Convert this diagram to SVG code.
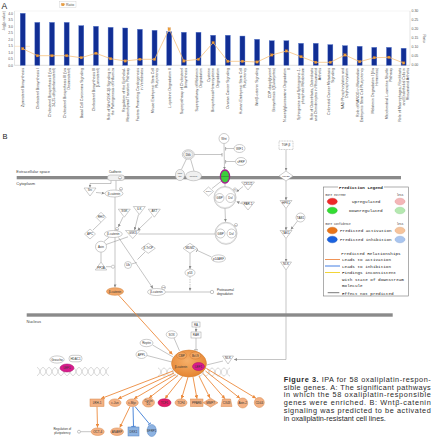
<svg xmlns="http://www.w3.org/2000/svg" width="432" height="438" viewBox="0 0 432 438">
<defs>
<style>
.ax{font-family:"Liberation Sans",Arial,sans-serif;font-size:3.5px;fill:#555}
.xl{font-family:"Liberation Sans",Arial,sans-serif;font-size:3.6px;fill:#444}
.bar{fill:#112e94;stroke:#5577cc;stroke-width:0.4}
.n{fill:#fff;stroke:#9a9a9a;stroke-width:0.5}
.g{fill:#f0f0f0;stroke:#a0a0a0;stroke-width:0.5}
.o{fill:#f4b183;stroke:#d6874a;stroke-width:0.5}
.t{font-family:"Liberation Sans",Arial,sans-serif;font-size:3px;fill:#333;text-anchor:middle}
.ts{font-family:"Liberation Sans",Arial,sans-serif;font-size:2.2px;fill:#333;text-anchor:middle}
.lb{font-family:"Liberation Sans",Arial,sans-serif;font-size:4px;fill:#444}
.c{stroke:#8a8a8a;stroke-width:0.5;fill:none}
.co{stroke:#ec8a3c;stroke-width:0.9;fill:none}
.cb{stroke:#3a7bd5;stroke-width:0.9;fill:none}
.lg{font-family:"Liberation Mono","Courier New",monospace;font-size:4.3px;fill:#222}
.ls{font-family:"Liberation Mono","Courier New",monospace;font-size:2.8px;fill:#333}
.cap{font-family:"Liberation Sans",Arial,sans-serif;font-size:7.3px;fill:#2a2a2a}
</style>
<marker id="ag" viewBox="0 0 6 6" refX="6" refY="3" markerWidth="3" markerHeight="3" orient="auto" markerUnits="userSpaceOnUse"><path d="M0,0L6,3L0,6z" fill="#8a8a8a"/></marker>
<marker id="ao" viewBox="0 0 6 6" refX="6" refY="3" markerWidth="3.6" markerHeight="3.6" orient="auto" markerUnits="userSpaceOnUse"><path d="M0,0L6,3L0,6z" fill="#ec8a3c"/></marker>
<marker id="tg" viewBox="0 0 6 6" refX="3" refY="3" markerWidth="4" markerHeight="4" orient="auto" markerUnits="userSpaceOnUse"><path d="M3,0V6" stroke="#8a8a8a" stroke-width="1"/></marker>
<marker id="tb" viewBox="0 0 6 6" refX="3" refY="3" markerWidth="4.5" markerHeight="4.5" orient="auto" markerUnits="userSpaceOnUse"><path d="M3,0V6" stroke="#3a7bd5" stroke-width="1.2"/></marker>
<rect id="mk" x="-1.2" y="-1.2" width="2.4" height="2.4" fill="#eea13c" stroke="#c9782a" stroke-width="0.3"/>
<path id="hx" d="M0,-4C3,-4 3,4 6,4C9,4 9,-4 12,-4M0,4C3,4 3,-4 6,-4C9,-4 9,4 12,4" fill="none" stroke="#b5b5b5" stroke-width="0.5"/>
<radialGradient id="cxg" cx="0.45" cy="0.4" r="0.65"><stop offset="0" stop-color="#f6b06a"/><stop offset="1" stop-color="#e4822e"/></radialGradient>
</defs>
<rect width="432" height="438" fill="#fff"/>

<!-- ================= Panel A ================= -->
<g id="panelA">
<text x="1.5" y="8.5" font-family="Liberation Sans,Arial,sans-serif" font-size="8.5" fill="#222">A</text>
<g id="ratio-legend">
<rect x="59.3" y="1.7" width="16.7" height="5.8" fill="#fff" stroke="#ccc" stroke-width="0.4"/>
<line x1="60.8" y1="4.6" x2="65" y2="4.6" stroke="#f6c27e" stroke-width="0.7"/>
<use href="#mk" x="62.9" y="4.6"/>
<text x="66" y="5.9" class="ax">Ratio</text>
</g>
<line x1="14.5" y1="11" x2="410" y2="11" stroke="#e2e2e2" stroke-width="0.4"/>
<line x1="14.5" y1="11" x2="14.5" y2="65.3" stroke="#bbb" stroke-width="0.4"/>
<line x1="410" y1="11" x2="410" y2="65.3" stroke="#bbb" stroke-width="0.4"/>
<line x1="14.5" y1="65.3" x2="410" y2="65.3" stroke="#aaa" stroke-width="0.4"/>
<line x1="14.5" y1="46.3" x2="30" y2="46.3" stroke="#f6d3a8" stroke-width="0.6"/>
<g class="ax" text-anchor="end">
<text x="13" y="14.5">4.0</text><text x="13" y="21">3.5</text><text x="13" y="27.5">3.0</text><text x="13" y="34">2.5</text><text x="13" y="40.5">2.0</text><text x="13" y="47">1.5</text><text x="13" y="53.5">1.0</text><text x="13" y="60">0.5</text><text x="13" y="66.5">0.0</text>
</g>
<g class="ax">
<text x="411.5" y="12.2">0.30</text><text x="411.5" y="21.2">0.25</text><text x="411.5" y="30.2">0.20</text><text x="411.5" y="39.2">0.15</text><text x="411.5" y="48.2">0.10</text><text x="411.5" y="57.2">0.05</text><text x="411.5" y="66.2">0.00</text>
</g>
<text class="ax" transform="translate(4.5,21) rotate(-90)" text-anchor="middle">-log(p-value)</text>
<text class="ax" transform="translate(423,38.5) rotate(90)" text-anchor="middle">Ratio</text>
<g id="bars">
<rect class="bar" x="20.2" y="13.3" width="5" height="52"/>
<rect class="bar" x="34.85" y="22.4" width="5" height="42.9"/>
<rect class="bar" x="49.5" y="22.4" width="5" height="42.9"/>
<rect class="bar" x="64.15" y="22.4" width="5" height="42.9"/>
<rect class="bar" x="78.8" y="25.65" width="5" height="39.65"/>
<rect class="bar" x="93.45" y="26.3" width="5" height="39"/>
<rect class="bar" x="108.1" y="27.34" width="5" height="37.96"/>
<rect class="bar" x="122.75" y="27.99" width="5" height="37.31"/>
<rect class="bar" x="137.4" y="29.29" width="5" height="36.01"/>
<rect class="bar" x="152.05" y="30.33" width="5" height="34.97"/>
<rect class="bar" x="166.7" y="31.76" width="5" height="33.54"/>
<rect class="bar" x="181.35" y="32.28" width="5" height="33.02"/>
<rect class="bar" x="196" y="32.28" width="5" height="33.02"/>
<rect class="bar" x="210.65" y="35.27" width="5" height="30.03"/>
<rect class="bar" x="225.3" y="35.27" width="5" height="30.03"/>
<rect class="bar" x="239.95" y="36.05" width="5" height="29.25"/>
<rect class="bar" x="254.6" y="39.3" width="5" height="26"/>
<rect class="bar" x="269.25" y="40.73" width="5" height="24.57"/>
<rect class="bar" x="283.9" y="40.73" width="5" height="24.57"/>
<rect class="bar" x="298.55" y="43.33" width="5" height="21.97"/>
<rect class="bar" x="313.2" y="43.33" width="5" height="21.97"/>
<rect class="bar" x="327.85" y="44.63" width="5" height="20.67"/>
<rect class="bar" x="342.5" y="45.67" width="5" height="19.63"/>
<rect class="bar" x="357.15" y="46.32" width="5" height="18.98"/>
<rect class="bar" x="371.8" y="47.36" width="5" height="17.94"/>
<rect class="bar" x="386.45" y="47.36" width="5" height="17.94"/>
<rect class="bar" x="401.1" y="48.27" width="5" height="17.03"/>
</g>
<g id="ratio-line">
<polyline fill="none" stroke="#f6c27e" stroke-width="0.8" points="22.7,48.7 37.35,55.7 52,55.7 66.65,55.7 81.3,57.7 95.95,53.3 110.6,58.7 125.25,61 139.9,59.3 154.55,59.3 169.2,29 183.85,61 198.5,59.3 213.15,42.7 227.8,61.3 242.45,61.3 257.1,62 271.75,55 286.4,51 301.05,56.7 315.7,62.3 330.35,62.3 345,55 359.65,61.7 374.3,57.7 388.95,57.3 403.6,63"/>
<use href="#mk" x="22.7" y="48.7"/><use href="#mk" x="37.35" y="55.7"/><use href="#mk" x="52" y="55.7"/><use href="#mk" x="66.65" y="55.7"/><use href="#mk" x="81.3" y="57.7"/><use href="#mk" x="95.95" y="53.3"/><use href="#mk" x="110.6" y="58.7"/><use href="#mk" x="125.25" y="61"/><use href="#mk" x="139.9" y="59.3"/><use href="#mk" x="154.55" y="59.3"/><use href="#mk" x="169.2" y="29"/><use href="#mk" x="183.85" y="61"/><use href="#mk" x="198.5" y="59.3"/><use href="#mk" x="213.15" y="42.7"/><use href="#mk" x="227.8" y="61.3"/><use href="#mk" x="242.45" y="61.3"/><use href="#mk" x="257.1" y="62"/><use href="#mk" x="271.75" y="55"/><use href="#mk" x="286.4" y="51"/><use href="#mk" x="301.05" y="56.7"/><use href="#mk" x="315.7" y="62.3"/><use href="#mk" x="330.35" y="62.3"/><use href="#mk" x="345" y="55"/><use href="#mk" x="359.65" y="61.7"/><use href="#mk" x="374.3" y="57.7"/><use href="#mk" x="388.95" y="57.3"/><use href="#mk" x="403.6" y="63"/>
</g>
<g id="xlabels" class="xl" text-anchor="end">
<text transform="translate(22.7,68) rotate(-90)"><tspan x="0" y="1.3">Zymosterol Biosynthesis</tspan></text>
<text transform="translate(37.35,68) rotate(-90)"><tspan x="0" y="1.3">Cholesterol Biosynthesis I</tspan></text>
<text transform="translate(52,68) rotate(-90)"><tspan x="0" y="-0.75">Cholesterol Biosynthesis II (via</tspan><tspan x="0" y="3.35">24,25-dihydrolanosterol)</tspan></text>
<text transform="translate(66.65,68) rotate(-90)"><tspan x="0" y="-0.75">Cholesterol Biosynthesis III (via</tspan><tspan x="0" y="3.35">Desmosterol)</tspan></text>
<text transform="translate(81.3,68) rotate(-90)"><tspan x="0" y="1.3">Basal Cell Carcinoma Signaling</tspan></text>
<text transform="translate(95.95,68) rotate(-90)"><tspan x="0" y="-0.75">Cholesterol Biosynthesis III</tspan><tspan x="0" y="3.35">(Lanosterol)</tspan></text>
<text transform="translate(110.6,68) rotate(-90)"><tspan x="0" y="-0.75">Role of Wnt/GSK-3β Signaling in</tspan><tspan x="0" y="3.35">the Pathogenesis of Influenza</tspan></text>
<text transform="translate(125.25,68) rotate(-90)"><tspan x="0" y="-0.75">Regulation of the Epithelial-</tspan><tspan x="0" y="3.35">Mesenchymal Transition Pathway</tspan></text>
<text transform="translate(139.9,68) rotate(-90)"><tspan x="0" y="-0.75">Factors Promoting Cardiogenesis</tspan><tspan x="0" y="3.35">in Vertebrates</tspan></text>
<text transform="translate(154.55,68) rotate(-90)"><tspan x="0" y="-0.75">Mouse Embryonic Stem Cell</tspan><tspan x="0" y="3.35">Pluripotency</tspan></text>
<text transform="translate(169.2,68) rotate(-90)"><tspan x="0" y="1.3">L-cysteine Degradation II</tspan></text>
<text transform="translate(183.85,68) rotate(-90)"><tspan x="0" y="-0.75">Superpathway of Cholesterol</tspan><tspan x="0" y="3.35">Biosynthesis</tspan></text>
<text transform="translate(198.5,68) rotate(-90)"><tspan x="0" y="-0.75">Superpathway of Melatonin</tspan><tspan x="0" y="3.35">Degradation</tspan></text>
<text transform="translate(213.15,68) rotate(-90)"><tspan x="0" y="-2.8">Cysteine</tspan><tspan x="0" y="1.3">Biosynthesis/Homocysteine</tspan><tspan x="0" y="5.4">Degradation</tspan></text>
<text transform="translate(227.8,68) rotate(-90)"><tspan x="0" y="1.3">Ovarian Cancer Signaling</tspan></text>
<text transform="translate(242.45,68) rotate(-90)"><tspan x="0" y="-0.75">Human Embryonic Stem Cell</tspan><tspan x="0" y="3.35">Pluripotency</tspan></text>
<text transform="translate(257.1,68) rotate(-90)"><tspan x="0" y="1.3">Wnt/β-catenin Signaling</tspan></text>
<text transform="translate(271.75,68) rotate(-90)"><tspan x="0" y="-0.75">CDP-diacylglycerol</tspan><tspan x="0" y="3.35">Biosynthesis I (Eukaryotes)</tspan></text>
<text transform="translate(286.4,68) rotate(-90)"><tspan x="0" y="-0.75">N-acetylglucosamine Degradation</tspan><tspan x="0" y="3.35">II</tspan></text>
<text transform="translate(301.05,68) rotate(-90)"><tspan x="0" y="-0.75">Sphingosine and Sphingosine-1-</tspan><tspan x="0" y="3.35">phosphate Metabolism</tspan></text>
<text transform="translate(315.7,68) rotate(-90)"><tspan x="0" y="-2.8">Role of Osteoblasts, Osteoclasts</tspan><tspan x="0" y="1.3">and Chondrocytes in Rheumatoid</tspan><tspan x="0" y="5.4">Arthritis</tspan></text>
<text transform="translate(330.35,68) rotate(-90)"><tspan x="0" y="-0.75">Colorectal Cancer Metastasis</tspan><tspan x="0" y="3.35">Signaling</tspan></text>
<text transform="translate(345,68) rotate(-90)"><tspan x="0" y="-0.75">NAD Phosphorylation and</tspan><tspan x="0" y="3.35">Dephosphorylation</tspan></text>
<text transform="translate(359.65,68) rotate(-90)"><tspan x="0" y="-0.75">Role of NANOG in Mammalian</tspan><tspan x="0" y="3.35">Embryonic Stem Cell Pluripotency</tspan></text>
<text transform="translate(374.3,68) rotate(-90)"><tspan x="0" y="-0.75">Melatonin Degradation I (Via</tspan><tspan x="0" y="3.35">Hormones)</tspan></text>
<text transform="translate(388.95,68) rotate(-90)"><tspan x="0" y="-0.75">Mitochondrial L-carnitine Shuttle</tspan><tspan x="0" y="3.35">Pathway</tspan></text>
<text transform="translate(403.6,68) rotate(-90)"><tspan x="0" y="-2.8">Role of Macrophages, Fibroblasts</tspan><tspan x="0" y="1.3">and Endothelial Cells in</tspan><tspan x="0" y="5.4">Rheumatoid Arthritis</tspan></text>
</g>
</g>

<!-- ================= Panel B ================= -->
<text x="2.5" y="139" font-family="Liberation Sans,Arial,sans-serif" font-size="7.5" fill="#222">B</text>
<g id="compartments">
<rect x="16.7" y="176" width="384.3" height="3.3" fill="#8a8a8a"/>
<text x="16.3" y="173.3" class="lb" font-size="3.8">Extracellular space</text>
<text x="16.3" y="184.6" class="lb">Cytoplasm</text>
<rect x="26.7" y="313.3" width="366" height="3.4" fill="#8a8a8a"/>
<text x="26.5" y="322.5" class="lb">Nucleus</text>
</g>
<g id="dna">
<use href="#hx" x="37" y="371.5"/><use href="#hx" x="49" y="371.5"/><use href="#hx" x="61" y="371.5"/><use href="#hx" x="73" y="371.5"/><use href="#hx" x="85" y="371.5"/><use href="#hx" x="97" y="371.5"/>
<use href="#hx" x="158" y="372"/><use href="#hx" x="170" y="372"/><use href="#hx" x="182" y="372"/><use href="#hx" x="194" y="372"/><use href="#hx" x="206" y="372"/><use href="#hx" x="218" y="372"/>
</g>

<g id="connectors">
<polyline class="c" points="111,180.5 111,183.5 90,183.5 90,187.6" marker-end="url(#ag)"/>
<line class="c" x1="96" y1="192.5" x2="104.6" y2="193.3" marker-end="url(#ag)"/>
<line class="c" x1="116" y1="180.5" x2="116" y2="189.8"/>
<line class="c" x1="186.5" y1="158.8" x2="181.5" y2="169.3"/>
<line class="c" x1="190.5" y1="158.8" x2="194" y2="171"/>
<line class="c" x1="193.8" y1="154.5" x2="222" y2="154.5" marker-end="url(#tg)"/>
<line class="c" x1="224" y1="143.5" x2="224.5" y2="169.6" marker-end="url(#ag)"/>
<line class="c" x1="234" y1="148.5" x2="225.6" y2="148.5" marker-end="url(#tg)"/>
<line class="c" x1="235.5" y1="161.5" x2="225.6" y2="161.5" marker-end="url(#tg)"/>
<line class="c" x1="221.5" y1="181" x2="212" y2="188.5"/>
<line class="c" x1="225" y1="183" x2="225" y2="186.5"/>
<line class="c" x1="243" y1="186.5" x2="236.5" y2="191.8" marker-end="url(#ag)"/>
<line class="c" x1="242.5" y1="204" x2="236.5" y2="201.6" marker-end="url(#ag)"/>
<line class="c" x1="225" y1="208.5" x2="225.5" y2="221.8" marker-end="url(#ag)"/>
<line class="c" x1="138.5" y1="234" x2="215" y2="234"/>
<line class="c" x1="286" y1="149.5" x2="286" y2="170.8" marker-end="url(#ag)"/>
<line class="c" x1="286" y1="181" x2="286" y2="200.3" marker-end="url(#ag)"/>
<line class="c" x1="286" y1="208.5" x2="286" y2="230.3" marker-end="url(#ag)"/>
<line class="c" x1="297.5" y1="221" x2="290.8" y2="229.6" marker-end="url(#ag)"/>
<line class="c" x1="286" y1="238.5" x2="286" y2="261.8" marker-end="url(#ag)"/>
<polyline class="c" points="286,270 286,359.5 234,359.5" marker-end="url(#ag)"/>
<line class="c" x1="223" y1="361" x2="206.5" y2="365"/>
<line class="c" x1="101" y1="222.3" x2="93" y2="230"/>
<line class="c" x1="123" y1="217" x2="118.3" y2="227" marker-end="url(#ag)"/>
<line class="c" x1="138.5" y1="214.5" x2="134.5" y2="230.2" marker-end="url(#ag)"/>
<line class="c" x1="152" y1="216.5" x2="137.5" y2="230.4" marker-end="url(#ag)"/>
<line class="c" x1="104" y1="241.5" x2="109" y2="237.3"/>
<line class="c" x1="106" y1="244.5" x2="128" y2="236.8"/>
<line class="c" x1="101" y1="252.2" x2="101" y2="262"/>
<line class="c" x1="106" y1="266.7" x2="111.4" y2="266.7"/>
<line class="c" x1="115" y1="197" x2="115" y2="287.4" marker-end="url(#ag)"/>
<line class="c" x1="118.5" y1="237.5" x2="153" y2="288.4" marker-end="url(#ag)"/>
<line class="c" x1="145" y1="252" x2="137.5" y2="259.5"/>
<line class="c" x1="131.5" y1="264" x2="136.8" y2="262.5"/>
<line class="c" x1="165.5" y1="292" x2="210.3" y2="292"/>
<circle cx="212" cy="292" r="1.7" fill="#fff" stroke="#8a8a8a" stroke-width="0.5"/>
<line class="c" x1="190" y1="253.3" x2="190" y2="268.9" marker-end="url(#ag)"/>
<line class="c" x1="190" y1="276.5" x2="190" y2="290.8" stroke-dasharray="1.5,1" marker-end="url(#ag)"/>
<line class="c" x1="211.5" y1="257" x2="197" y2="250.3" marker-end="url(#tg)"/>
<line class="co" x1="118.5" y1="295" x2="172.5" y2="354.5" marker-end="url(#ao)"/>
<line class="c" x1="174" y1="338" x2="179.5" y2="350.8"/>
<line class="c" x1="196" y1="327" x2="196" y2="331.9" marker-end="url(#ag)"/>
<line class="c" x1="196" y1="338" x2="196" y2="349.8" marker-end="url(#tg)"/>
<line class="c" x1="152.5" y1="345" x2="173" y2="357"/>
<line class="c" x1="147" y1="355.5" x2="171.8" y2="362"/>
<line class="co" x1="173" y1="371" x2="101" y2="398.6" marker-end="url(#ao)"/>
<line class="co" x1="174" y1="373" x2="118" y2="398.8" marker-end="url(#ao)"/>
<line class="co" x1="175.5" y1="374.5" x2="134" y2="398.8" marker-end="url(#ao)"/>
<line class="co" x1="178" y1="375.5" x2="149" y2="398" marker-end="url(#ao)"/>
<line class="co" x1="182.5" y1="376.5" x2="165" y2="398.6" marker-end="url(#ao)"/>
<line class="co" x1="188" y1="377" x2="181.5" y2="398.8" marker-end="url(#ao)"/>
<line class="co" x1="193" y1="377" x2="197" y2="398.8" marker-end="url(#ao)"/>
<line class="co" x1="199" y1="376" x2="210" y2="398" marker-end="url(#ao)"/>
<line class="co" x1="203" y1="373.5" x2="225" y2="398.8" marker-end="url(#ao)"/>
<line class="co" x1="205.5" y1="371" x2="240" y2="398.3" marker-end="url(#ao)"/>
<line class="co" x1="206.5" y1="368.5" x2="256" y2="398.3" marker-end="url(#ao)"/>
<line class="co" x1="97" y1="406.5" x2="97.5" y2="427.6" marker-end="url(#ao)"/>
<line class="co" x1="130" y1="406.5" x2="119.8" y2="427.6" marker-end="url(#ao)"/>
<line class="cb" x1="133" y1="406.5" x2="133.5" y2="426.4" marker-end="url(#tb)"/>
<line class="cb" x1="135" y1="406.5" x2="149.5" y2="424" marker-end="url(#tb)"/>
<line class="c" x1="80.5" y1="431.7" x2="91.2" y2="431.7"/>
<circle cx="79" cy="431.7" r="1.5" fill="#fff" stroke="#8a8a8a" stroke-width="0.5"/>
</g>

<g id="nodes">
<g id="cadherin"><text x="115" y="172.6" class="t" font-size="3.3">Cadherin</text><rect x="107.5" y="175" width="17" height="5.5" rx="2.7" class="g"/><circle cx="120" cy="177.8" r="1.6" class="n"/><text x="120" y="178.6" class="ts">P</text></g>
<g id="src"><polygon points="84,188 96,188 90,196" class="n"/><text x="90" y="191" class="t">Src</text></g>
<g id="bcat1"><ellipse cx="114" cy="193.5" rx="9" ry="3.5" class="n"/><text x="114" y="194.6" class="t">β-catenin</text><circle cx="121" cy="189" r="1.6" class="n"/><text x="121" y="189.8" class="ts">P</text></g>
<g id="dkk"><ellipse cx="188.3" cy="154.5" rx="6" ry="4.8" class="n"/><ellipse cx="188.3" cy="154.5" rx="4.8" ry="3.7" class="g"/><text x="188.3" y="155.6" class="t">Dkk</text></g>
<g id="lrp"><ellipse cx="180" cy="175" rx="4.6" ry="5.6" class="g"/><text x="180" y="173.6" class="ts">LRP</text><text x="180" y="177.2" class="ts">5/6</text></g>
<g id="kremen"><ellipse cx="193.5" cy="176" rx="8" ry="4.8" class="g"/><text x="193.5" y="176.9" class="ts">Kremen</text></g>
<g id="wnt"><circle cx="224" cy="138.5" r="5" class="n"/><text x="224" y="139.6" class="t">Wnt</text></g>
<g id="wif1"><ellipse cx="239.5" cy="148.5" rx="5.5" ry="4" class="n"/><text x="239.5" y="149.6" class="t">WIF1</text></g>
<g id="sfrp"><ellipse cx="241" cy="161.5" rx="5.5" ry="4" class="n"/><text x="241" y="162.6" class="t">sFRP</text></g>
<g id="frizzled"><ellipse cx="225" cy="176.5" rx="4.6" ry="6.5" fill="#3ccf3c" stroke="#a0208a" stroke-width="1.3"/><text x="225" y="177.4" class="ts" fill="#111">Frizzled</text></g>
<g id="galpha"><polygon points="203.5,191.5 208.5,187 213.5,191.5 208.5,196" class="n"/><text x="208.5" y="192.3" class="ts">Gαo/i</text></g>
<g id="dvl1"><circle cx="225" cy="197.5" r="11" class="n"/><circle cx="225" cy="197.5" r="10.2" fill="none" stroke="#c0c0c0" stroke-width="0.4"/><circle cx="219.5" cy="198" r="4.5" class="n"/><text x="219.5" y="199" class="t">GBP</text><circle cx="230.5" cy="198" r="4.5" class="n"/><text x="230.5" y="199" class="t">Dvl</text><circle cx="235" cy="189.5" r="1.6" class="n"/><text x="235" y="190.3" class="ts">P</text></g>
<g id="ck12"><polygon points="241.5,182 254.5,182 248,190" class="n"/><text x="248" y="185" class="t">CK1/2</text></g>
<g id="par1"><polygon points="241.5,202 254.5,202 248,210" class="n"/><text x="248" y="205" class="t">PAR-1</text></g>
<g id="dvl2"><circle cx="226" cy="233.3" r="11" class="n"/><circle cx="226" cy="233.3" r="10.2" fill="none" stroke="#c0c0c0" stroke-width="0.4"/><circle cx="220.5" cy="233.5" r="4.5" class="n"/><text x="220.5" y="234.5" class="t">GBP</text><circle cx="231.5" cy="233.5" r="4.5" class="n"/><text x="231.5" y="234.5" class="t">Dvl</text><circle cx="236" cy="225" r="1.6" class="n"/><text x="236" y="225.8" class="ts">P</text></g>
<g id="tgfb"><rect x="279" y="141" width="14" height="8.5" class="n" stroke-dasharray="1,0.6"/><text x="286" y="146.3" class="t">TGF-β</text></g>
<g id="tgfbr"><polygon points="279,176 286,171 293,176 286,181" class="n"/><text x="286" y="177" class="ts">TGFBR</text></g>
<g id="hpk1"><polygon points="280,200.5 292,200.5 286,208.5" class="n"/><text x="286" y="203.5" class="t">HPK1</text></g>
<g id="tab1"><circle cx="300.5" cy="217.5" r="4.5" class="n"/><text x="300.5" y="218.6" class="t">TAB1</text></g>
<g id="tak1"><polygon points="280,230.5 292,230.5 286,238.5" class="n"/><text x="286" y="233.5" class="t">TAK1</text></g>
<g id="nlk1"><polygon points="280.5,262 291.5,262 286,270" class="n"/><text x="286" y="265" class="t">NLK</text></g>
<g id="mdm2"><polygon points="183,248.3 190,243.3 197,248.3 190,253.3" class="n"/><text x="190" y="249.3" class="t">MDM2</text></g>
<g id="p53"><ellipse cx="190" cy="272.7" rx="5" ry="3.6" class="n"/><text x="190" y="273.8" class="t">p53</text></g>
<g id="p14arf"><ellipse cx="218.5" cy="258.5" rx="7" ry="3.6" class="n"/><text x="218.5" y="259.6" class="t">p14ARF</text></g>
<g id="rho"><polygon points="96,217.3 101,212.3 106,217.3 101,222.3" class="n"/><text x="101" y="218.4" class="t">RHO</text></g>
<g id="sgk"><polygon points="118.3,209.2 130.3,209.2 124.3,217.2" class="n"/><text x="124.3" y="212.2" class="t">SGK</text></g>
<g id="ilk"><polygon points="133.3,206.5 145.3,206.5 139.3,214.5" class="n"/><text x="139.3" y="209.5" class="t">ILK</text></g>
<g id="akt"><polygon points="148.3,209.2 160.3,209.2 154.3,217.2" class="n"/><text x="154.3" y="212.2" class="t">AKT</text></g>
<g id="apc"><polygon points="84.5,234 90,229 95.5,234 90,239" class="n"/><text x="90" y="235.1" class="t">APC</text></g>
<g id="bcat2"><ellipse cx="113.3" cy="234" rx="9" ry="3.5" class="n"/><text x="113.3" y="235.1" class="t">β-catenin</text><circle cx="117" cy="229" r="1.6" class="n"/><text x="117" y="229.8" class="ts">P</text></g>
<g id="gsk3"><polygon points="125.5,230.5 140,230.5 132.7,238.5" class="n"/><text x="132.7" y="233.6" class="t">GSK3</text></g>
<g id="axin"><circle cx="101" cy="246.7" r="5.5" class="n"/><text x="101" y="247.8" class="t">Axin</text></g>
<g id="pp2a"><polygon points="95.3,270 106.7,270 101,262" class="n"/><text x="101" y="269.2" class="t">PP2A</text><circle cx="113" cy="266.7" r="1.6" class="n"/></g>
<g id="btrcp"><polygon points="141.3,248.3 148.3,243.3 155.3,248.3 148.3,253.3" class="n"/><text x="148.3" y="249.3" class="t">β-TrCP</text></g>
<g id="ub"><circle cx="128" cy="265" r="3.5" class="n"/><text x="128" y="266.1" class="t">Ub</text></g>
<g id="bcat3"><ellipse cx="156.5" cy="292" rx="9" ry="3.5" class="n"/><text x="156.5" y="293.1" class="t">β-catenin</text><circle cx="163.5" cy="287.5" r="2" class="n"/><text x="163.5" y="288.3" class="ts">Ub</text></g>
<g id="degradation"><text x="217" y="290.5" class="t" text-anchor="start" style="text-anchor:start">Proteasomal</text><text x="217" y="294.6" class="t" style="text-anchor:start">degradation</text></g>
<g id="bcat4"><ellipse cx="115" cy="291.5" rx="8.5" ry="3.8" fill="#f2a768" stroke="#d0803a" stroke-width="0.5"/><text x="115" y="292.6" class="t">β-catenin</text></g>

<g id="groucho"><ellipse cx="57" cy="359.5" rx="7.2" ry="3.6" class="n"/><text x="57" y="360.6" class="t">Groucho</text></g>
<g id="hdac1"><rect x="69" y="355.3" width="13" height="6.5" rx="3" class="n"/><text x="75.5" y="359.6" class="t">HDAC1</text></g>
<g id="lef1a"><ellipse cx="67" cy="368" rx="7" ry="4" fill="#d81b8c" stroke="#a8106a" stroke-width="0.5"/><text x="67" y="369.1" class="t">LEF1</text></g>
<g id="sox"><ellipse cx="171.7" cy="334.5" rx="5.5" ry="3.7" class="n"/><text x="171.7" y="335.6" class="t">SOX</text></g>
<g id="ra"><rect x="192" y="322" width="8" height="5" class="n"/><text x="196" y="325.6" class="t">RA</text></g>
<g id="rar"><rect x="191" y="332" width="10" height="6" class="n"/><text x="196" y="336.1" class="t">RAR</text></g>
<g id="reptin"><ellipse cx="146.5" cy="343" rx="6.5" ry="3.7" class="n"/><text x="146.5" y="344.1" class="t">Reptin</text></g>
<g id="appl"><ellipse cx="141.5" cy="354.5" rx="5.5" ry="4" class="n"/><text x="141.5" y="355.6" class="t">APPL</text></g>
<g id="nlk2"><polygon points="222.5,356 233.5,356 228,364" class="n"/><text x="228" y="359" class="t">NLK</text></g>
<g id="complex"><ellipse cx="189" cy="363.5" rx="17.5" ry="13.5" fill="url(#cxg)" stroke="#d27a2c" stroke-width="0.5"/><ellipse cx="181.7" cy="355.5" rx="5" ry="3.5" fill="#f3a660" stroke="#c06a26" stroke-width="0.4"/><text x="181.7" y="356.6" class="t">CBP</text><ellipse cx="195.3" cy="355.5" rx="5.5" ry="3.5" fill="#f3a660" stroke="#c06a26" stroke-width="0.4"/><text x="195.3" y="356.6" class="t">Bcl-9</text><text x="181" y="367.6" class="t">β-catenin</text><ellipse cx="198.5" cy="366.5" rx="6" ry="4" fill="#d81b8c" stroke="#a8106a" stroke-width="0.5"/><text x="198.5" y="367.6" class="t">LEF1</text></g>

<g id="lrh1"><rect x="90" y="399" width="14" height="7.5" class="o"/><text x="97" y="403.8" class="t">LRH-1</text></g>
<g id="cjun"><ellipse cx="115" cy="402.7" rx="6" ry="3.8" class="o"/><text x="115" y="403.8" class="t">c-Jun</text></g>
<g id="cmyc"><ellipse cx="132.3" cy="402.7" rx="6" ry="3.8" class="o"/><text x="132.3" y="403.8" class="t">c-Myc</text></g>
<g id="cyclind1"><ellipse cx="148.5" cy="402.5" rx="6" ry="4.6" class="o"/><text x="148.5" y="401.6" class="t">Cyclin</text><text x="148.5" y="405" class="t">D1</text></g>
<g id="tcf1"><ellipse cx="164.5" cy="402.7" rx="6.5" ry="4" fill="#e3186a" stroke="#b01050" stroke-width="0.5"/><text x="164.5" y="403.8" class="t" fill="#5a0020">TCF1</text></g>
<g id="tcf4"><ellipse cx="181" cy="402.7" rx="6" ry="3.8" class="o"/><text x="181" y="403.8" class="t">TCF4</text></g>
<g id="ppard"><rect x="190.5" y="399" width="12.5" height="7.5" class="o"/><text x="196.7" y="403.8" class="t">PPARδ</text></g>
<g id="mmp7"><polygon points="203,402.7 210.5,398.2 218,402.7 210.5,407.2" class="o"/><text x="210.5" y="403.8" class="t">MMP7</text></g>
<g id="cx43"><polygon points="221,406.5 232,406.5 230.5,399 222.5,399" class="o"/><text x="226.5" y="403.8" class="t">CX43</text></g>
<g id="axin2"><circle cx="242.7" cy="403" r="5" class="o"/><text x="242.7" y="404.1" class="t">Axin-2</text></g>
<g id="cd44"><circle cx="259.3" cy="402.5" r="5" class="o"/><text x="259.3" y="403.6" class="t">CD44</text></g>
<g id="oct4"><ellipse cx="97.7" cy="431.7" rx="6.5" ry="3.8" class="o"/><text x="97.7" y="432.8" class="t">OCT-4</text></g>
<g id="anarp"><ellipse cx="117" cy="431.7" rx="6.5" ry="3.8" class="o"/><text x="117" y="432.8" class="t">ANARP</text></g>
<g id="dkk1"><rect x="128" y="427" width="11" height="9" fill="#8db3e2" stroke="#5080c0" stroke-width="0.5"/><text x="133.5" y="432.6" class="t">DKK1</text></g>
<g id="sfrp1"><ellipse cx="151.7" cy="430.5" rx="4.6" ry="6" fill="#8db3e2" stroke="#5080c0" stroke-width="0.5"/><text x="151.7" y="431.6" class="t">SFRP1</text></g>
<g id="pluripotency"><text x="62.3" y="430" class="t" font-size="3.5">Regulation of</text><text x="62.3" y="434.4" class="t" font-size="3.5">pluripotency</text></g>
</g>

<g id="legend">
<rect x="323.5" y="187" width="85" height="109" fill="#fff" stroke="#777" stroke-width="0.6"/>
<rect x="338" y="184.5" width="46" height="5" fill="#fff"/>
<text x="361" y="189" class="lg" font-size="5" font-weight="bold" text-anchor="middle">Prediction Legend</text>
<text x="325.5" y="196.3" class="ls">more extreme</text>
<text x="400" y="196.3" class="ls" text-anchor="middle">less</text>
<ellipse cx="332.3" cy="201.5" rx="5" ry="3.3" fill="#ee2a2a" stroke="#c22" stroke-width="0.4"/>
<ellipse cx="400" cy="201.5" rx="5" ry="3.3" fill="#f4b6b8" stroke="#d88" stroke-width="0.4"/>
<text x="352" y="203" class="lg">Upregulated</text>
<ellipse cx="332.3" cy="210.5" rx="5" ry="3.3" fill="#33dd33" stroke="#2a2" stroke-width="0.4"/>
<ellipse cx="400" cy="210.5" rx="5" ry="3.3" fill="#b5e8b0" stroke="#8c8" stroke-width="0.4"/>
<text x="349" y="212" class="lg">Downregulated</text>
<text x="325.5" y="225.3" class="ls">more confidence</text>
<text x="400" y="225.3" class="ls" text-anchor="middle">less</text>
<ellipse cx="332.3" cy="230.5" rx="5" ry="3.3" fill="#e8751a" stroke="#c55f10" stroke-width="0.4"/>
<ellipse cx="400" cy="230.5" rx="5" ry="3.3" fill="#f6c49c" stroke="#d9a070" stroke-width="0.4"/>
<text x="340" y="232" class="lg">Predicted activation</text>
<ellipse cx="332.3" cy="239.5" rx="5" ry="3.3" fill="#1a62e0" stroke="#1048b0" stroke-width="0.4"/>
<ellipse cx="400" cy="239.5" rx="5" ry="3.3" fill="#a9c5ef" stroke="#80a0d0" stroke-width="0.4"/>
<text x="340" y="241" class="lg">Predicted inhibition</text>
<text x="371" y="255" class="lg" text-anchor="middle">Predicted Relationships</text>
<line x1="325" y1="259.5" x2="340" y2="259.5" stroke="#ee8844" stroke-width="0.9"/>
<text x="342" y="261" class="lg">Leads to activation</text>
<line x1="325" y1="266" x2="340" y2="266" stroke="#2f6fe0" stroke-width="0.9"/>
<text x="342" y="267.5" class="lg">Leads to inhibition</text>
<line x1="325" y1="272.5" x2="340" y2="272.5" stroke="#f0d020" stroke-width="0.9"/>
<text x="342" y="274" class="lg">Findings inconsistent</text>
<text x="342" y="280.5" class="lg">with state of downstream</text>
<text x="342" y="287" class="lg">molecule</text>
<line x1="327.7" y1="292.7" x2="339.3" y2="292.7" stroke="#555" stroke-width="0.8"/>
<text x="342" y="294.5" class="lg">Effect not predicted</text>
</g>

<g id="caption" class="cap">
<text x="283.7" y="381.8" textLength="147" lengthAdjust="spacing"><tspan font-weight="bold">Figure 3.</tspan> IPA for 58 oxaliplatin-respon-</text>
<text x="283.7" y="389.6" textLength="147" lengthAdjust="spacing">sible genes. A: The significant pathways</text>
<text x="283.7" y="397.4" textLength="147" lengthAdjust="spacing">in which the 58 oxaliplatin-responsible</text>
<text x="283.7" y="405.2" textLength="147" lengthAdjust="spacing">genes were enriched. B: Wntβ-catenin</text>
<text x="283.7" y="413" textLength="147" lengthAdjust="spacing">signaling was predicted to be activated</text>
<text x="283.7" y="420.8">in oxaliplatin-resistant cell lines.</text>
</g>
</svg>
